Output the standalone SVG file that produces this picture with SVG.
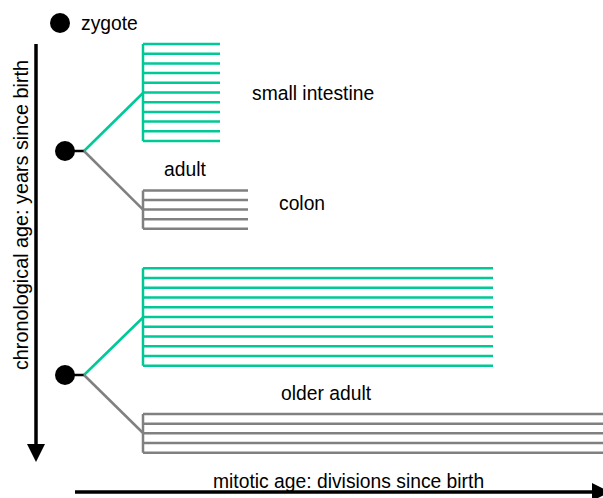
<svg xmlns="http://www.w3.org/2000/svg" width="603" height="498" viewBox="0 0 603 498">
<style>
text{font-family:"Liberation Sans",Arial,sans-serif;font-size:19.3px;fill:#000}
.g{stroke:#00c896;stroke-width:2.5;fill:none}
.k{stroke:#808080;stroke-width:2.5;fill:none}
.ax{stroke:#000;stroke-width:3.5;fill:none}
.stub{stroke:#000;stroke-width:2.5;fill:none}
</style>
<rect width="603" height="498" fill="#fff"/>
<g id="axes">
<line class="ax" x1="36" y1="44" x2="36" y2="446"/>
<polygon points="27,444 45,444 36,462" fill="#000"/>
<line class="ax" x1="75" y1="492" x2="594" y2="492"/>
<polygon points="592,483 592,501 610,492" fill="#000"/>
<text x="213" y="488">mitotic age: divisions since birth</text>
<text transform="translate(28,215) rotate(-90)" text-anchor="middle" style="font-size:19.8px">chronological age: years since birth</text>
</g>
<g id="zygote">
<circle cx="60" cy="23" r="10" fill="#000"/>
<text x="81" y="30">zygote</text>
</g>
<g id="adult">
<circle cx="65" cy="151" r="10" fill="#000"/>
<text x="164" y="176">adult</text>
</g>
<g id="small-intestine-adult">
<path class="g" d="M143,44V141M143,44H220M143,53.7H220M143,63.4H220M143,73.1H220M143,82.8H220M143,92.5H220M143,102.2H220M143,111.9H220M143,121.6H220M143,131.3H220M143,141H220"/>
<text x="252" y="100">small intestine</text>
</g>
<g id="colon-adult">
<path class="k" d="M143,190.5V228.7M143,190.5H248M143,200H248M143,209.6H248M143,219.2H248M143,228.7H248"/>
<text x="279" y="210">colon</text>
</g>
<g id="older-adult">
<circle cx="65" cy="375" r="10" fill="#000"/>
<text x="281" y="400">older adult</text>
</g>
<g id="small-intestine-older">
<path class="g" d="M143,268.3V365.7M143,268.3H493M143,278H493M143,287.8H493M143,297.5H493M143,307.3H493M143,317H493M143,326.7H493M143,336.5H493M143,346.2H493M143,356H493M143,365.7H493"/>
</g>
<g id="colon-older">
<path class="k" d="M143,414V452.7M143,414H603M143,423.7H603M143,433.3H603M143,443H603M143,452.7H603"/>
</g>
<g id="connectors">
<line class="stub" x1="70" y1="151" x2="85" y2="151"/>
<line class="g" x1="84" y1="151" x2="143" y2="93"/>
<line class="k" x1="84" y1="151" x2="143" y2="209.6"/>
<line class="stub" x1="70" y1="375" x2="85" y2="375"/>
<line class="g" x1="84" y1="375" x2="143" y2="317.5"/>
<line class="k" x1="84" y1="375" x2="143" y2="433"/>
</g>
</svg>
